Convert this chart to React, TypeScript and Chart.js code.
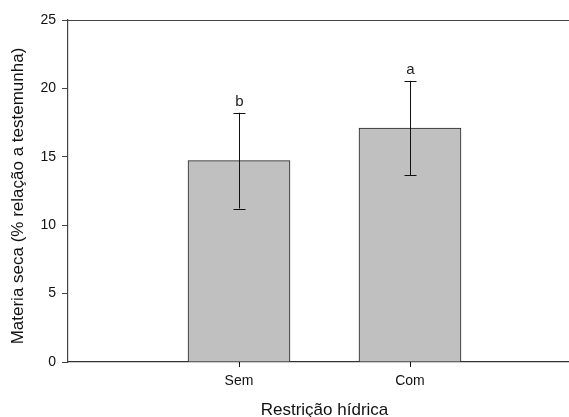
import React, { useEffect, useRef } from "react";
import { Chart, registerables } from "chart.js";

Chart.register(...registerables);

const categories = ["Sem", "Com"];
const positions = [1, 2];
const means = [14.72, 17.1];
const errors = [3.5, 3.45];
const letters = ["b", "a"];
const yTicks = [0, 5, 10, 15, 20, 25];
const yTitle = "Materia seca (% relação a testemunha)";
const xTitle = "Restrição hídrica";

const FONT = "'Liberation Sans', Arial, sans-serif";

export default function App() {
  const ref = useRef<HTMLCanvasElement | null>(null);

  useEffect(() => {
    if (!ref.current) return;
    const extras = {
      id: "extras",
      afterDatasetsDraw(chart: any) {
        const ctx = chart.ctx;
        const xs = chart.scales.x;
        const ys = chart.scales.y;
        const area = chart.chartArea;
        ctx.save();
        // top border line
        ctx.strokeStyle = "#444";
        ctx.lineWidth = 1.2;
        ctx.beginPath();
        ctx.moveTo(area.left, Math.round(area.top) + 0.5);
        ctx.lineTo(area.right, Math.round(area.top) + 0.5);
        ctx.stroke();
        // error bars
        ctx.strokeStyle = "#111";
        ctx.lineWidth = 1;
        positions.forEach((p, i) => {
          const x = Math.round(xs.getPixelForValue(p)) + 0.5;
          const yt = ys.getPixelForValue(means[i] + errors[i]);
          const yb = ys.getPixelForValue(means[i] - errors[i]);
          ctx.beginPath();
          ctx.moveTo(x, yt);
          ctx.lineTo(x, yb);
          ctx.moveTo(x - 6, Math.round(yt) + 0.5);
          ctx.lineTo(x + 6, Math.round(yt) + 0.5);
          ctx.moveTo(x - 6, Math.round(yb) + 0.5);
          ctx.lineTo(x + 6, Math.round(yb) + 0.5);
          ctx.stroke();
          // x tick mark below axis
          const y0 = ys.getPixelForValue(0);
          ctx.beginPath();
          ctx.moveTo(x, y0);
          ctx.lineTo(x, y0 + 5);
          ctx.stroke();
          // letter
          ctx.fillStyle = "#222";
          ctx.font = `15px ${FONT}`;
          ctx.textAlign = "center";
          ctx.textBaseline = "alphabetic";
          ctx.fillText(letters[i], x, yt - 7);
        });
        // titles
        ctx.fillStyle = "#111";
        ctx.font = `17px ${FONT}`;
        ctx.textAlign = "center";
        ctx.textBaseline = "middle";
        ctx.fillText(xTitle, (area.left + area.right) / 2, 410);
        ctx.save();
        ctx.translate(18, 196);
        ctx.rotate(-Math.PI / 2);
        ctx.fillText(yTitle, 0, 0);
        ctx.restore();
        ctx.restore();
      },
    };

    const chart = new Chart(ref.current, {
      type: "bar",
      data: {
        datasets: [
          {
            data: positions.map((p, i) => ({ x: p, y: means[i] })),
            backgroundColor: "#c0c0c0",
            borderColor: "#222",
            borderWidth: 1,
            barThickness: 102,
          },
        ],
      },
      options: {
        animation: false,
        responsive: false,
        layout: { padding: { top: 20, right: 19, left: 0, bottom: 0 } },
        plugins: { legend: { display: false }, tooltip: { enabled: false } },
        scales: {
          x: {
            type: "linear",
            min: 0,
            max: 3,
            offset: false,
            afterFit: (s: any) => {
              s.height = 55;
            },
            afterBuildTicks: (s: any) => {
              s.ticks = positions.map((v) => ({ value: v }));
            },
            ticks: {
              autoSkip: false,
              maxRotation: 0,
              padding: 6,
              color: "#111",
              font: { family: FONT, size: 14 },
              callback: (v: any) => {
                const idx = positions.indexOf(Number(v));
                return idx >= 0 ? categories[idx] : "";
              },
            },
            grid: {
              display: true,
              offset: false,
              drawOnChartArea: false,
              drawTicks: true,
              tickLength: 5,
              color: "#333",
            },
            border: { display: true, color: "#333", width: 1.2 },
          },
          y: {
            min: 0,
            max: 25,
            afterFit: (s: any) => {
              s.width = 68;
            },
            afterBuildTicks: (s: any) => {
              s.ticks = yTicks.map((v) => ({ value: v }));
            },
            ticks: {
              padding: 6,
              color: "#111",
              font: { family: FONT, size: 14 },
            },
            grid: {
              display: true,
              drawOnChartArea: false,
              drawTicks: true,
              tickLength: 6,
              color: "#444",
            },
            border: { display: true, color: "#444", width: 1.2 },
          },
        },
      },
      plugins: [extras],
    });
    return () => chart.destroy();
  }, []);

  return (
    <div
      style={{
        position: "fixed",
        left: 0,
        top: 0,
        width: 569,
        height: 417,
        overflow: "hidden",
        background: "#fff",
      }}
    >
      <canvas ref={ref} width={600} height={417} style={{ display: "block" }} />
    </div>
  );
}
